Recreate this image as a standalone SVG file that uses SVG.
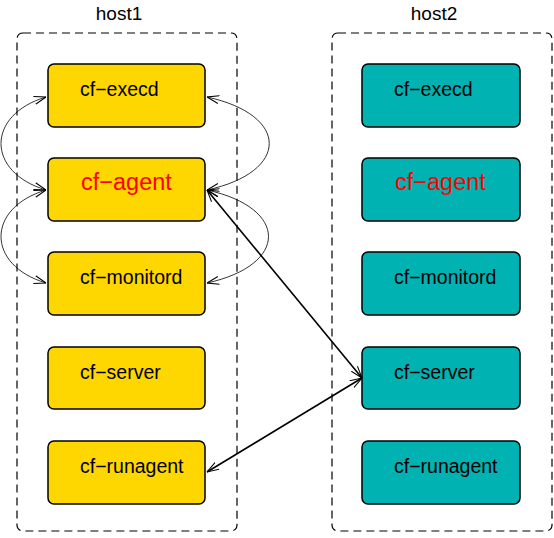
<svg xmlns="http://www.w3.org/2000/svg" width="554" height="538" viewBox="0 0 554 538">
<style>
.host{fill:none;stroke:#000;stroke-width:1.2;stroke-dasharray:8,5}
.n1{fill:#FFD700;stroke:#000;stroke-width:1.5}
.n2{fill:#00B2B2;stroke:#000;stroke-width:1.5}
.t{font-family:"Liberation Sans",Arial,sans-serif;font-size:19.5px;fill:#000}
.ta{font-family:"Liberation Sans",Arial,sans-serif;font-size:23.5px;fill:#FF0000}
.h{font-family:"Liberation Sans",Arial,sans-serif;font-size:19px;fill:#000;text-anchor:middle}
.c{fill:none;stroke:#000;stroke-width:0.8}
.s{fill:none;stroke:#000;stroke-width:1.6}
</style>
<defs>
<marker id="a" viewBox="0 0 12 10" refX="12" refY="5" markerWidth="12" markerHeight="10" markerUnits="userSpaceOnUse" orient="auto-start-reverse">
<path d="M0,1 L12,5 L0,9" fill="none" stroke="#000" stroke-width="1"/>
</marker>
</defs>
<rect width="554" height="538" fill="#fff"/>
<g id="host1">
<rect class="host" x="17" y="33" width="220" height="498" rx="6"/>
<text class="h" x="119" y="20">host1</text>
</g>
<g id="host2">
<rect class="host" x="332" y="33" width="220" height="498" rx="6"/>
<text class="h" x="434" y="20">host2</text>
</g>
<g id="h1-execd"><rect class="n1" x="48" y="64" width="157" height="63" rx="6"/><text class="t" x="80" y="96">cf−execd</text></g>
<g id="h1-agent"><rect class="n1" x="48" y="158" width="157" height="63" rx="6"/><text class="ta" x="81" y="190">cf−agent</text></g>
<g id="h1-monitord"><rect class="n1" x="48" y="252" width="157" height="63" rx="6"/><text class="t" x="80" y="284">cf−monitord</text></g>
<g id="h1-server"><rect class="n1" x="48" y="347" width="157" height="62" rx="6"/><text class="t" x="80" y="379">cf−server</text></g>
<g id="h1-runagent"><rect class="n1" x="48" y="441" width="157" height="63" rx="6"/><text class="t" x="80" y="473">cf−runagent</text></g>
<g id="h2-execd"><rect class="n2" x="362" y="64" width="158" height="63" rx="6"/><text class="t" x="394" y="96">cf−execd</text></g>
<g id="h2-agent"><rect class="n2" x="362" y="158" width="158" height="63" rx="6"/><text class="ta" x="395" y="190">cf−agent</text></g>
<g id="h2-monitord"><rect class="n2" x="362" y="252" width="158" height="63" rx="6"/><text class="t" x="394" y="284">cf−monitord</text></g>
<g id="h2-server"><rect class="n2" x="362" y="347" width="158" height="62" rx="6"/><text class="t" x="394" y="379">cf−server</text></g>
<g id="h2-runagent"><rect class="n2" x="362" y="441" width="158" height="63" rx="6"/><text class="t" x="394" y="473">cf−runagent</text></g>
<g id="connectors">
<path class="c" d="M46,97 C-14,115 -14,172 46,190" marker-start="url(#a)" marker-end="url(#a)"/>
<path class="c" d="M46,190 C-14,208 -14,265 46,283" marker-start="url(#a)" marker-end="url(#a)"/>
<path class="c" d="M207,97 C290,115 290,172 207,190" marker-start="url(#a)" marker-end="url(#a)"/>
<path class="c" d="M207,190 C289,208 289,265 207,283" marker-start="url(#a)" marker-end="url(#a)"/>
<path class="s" d="M207,190 L362,378" marker-start="url(#a)" marker-end="url(#a)"/>
<path class="s" d="M207,472 L362,378" marker-start="url(#a)" marker-end="url(#a)"/>
</g>
</svg>
